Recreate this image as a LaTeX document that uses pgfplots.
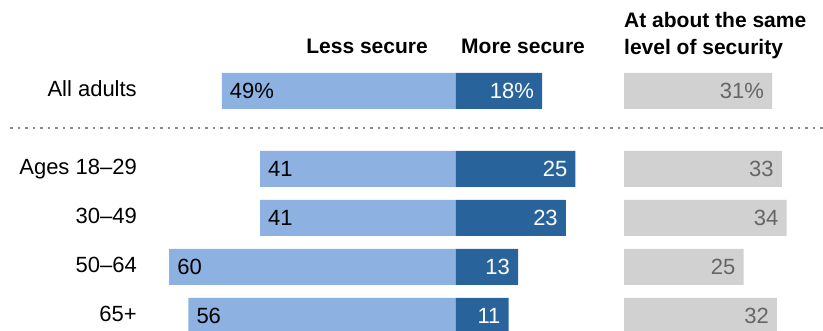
\documentclass[border=0pt]{standalone}
\usepackage{pgfplots}
\pgfplotsset{compat=1.18}
\usepackage{fontspec}
\setmainfont{Liberation Sans}
\definecolor{lightb}{HTML}{8DB1E1}
\definecolor{darkb}{HTML}{29639B}
\definecolor{grayb}{HTML}{D1D1D1}
\definecolor{graytxt}{HTML}{666666}
\definecolor{dotc}{HTML}{8A8A8A}
\newcommand{\lab}{\fontsize{22}{26}\selectfont}
\newcommand{\hdr}{\fontsize{21}{25}\selectfont\bfseries}
\begin{document}
\begin{tikzpicture}
\useasboundingbox (0,0) rectangle (823pt,331pt);
\pgfplotsset{base/.style={
  at={(0,0)}, anchor=south west,
  width=823pt, height=331pt, scale only axis, hide axis,
  y dir=reverse, ymin=0, ymax=331,
  xbar, bar width=36pt, clip=false,
  point meta=explicit symbolic}}
% diverging axis: pixel p -> x = (p-456)/4.78
\begin{axis}[base, xmin=-95.397, xmax=76.778]
\addplot[draw=none, fill=lightb, bar shift=0pt, nodes near coords,
  every node near coord/.append style={anchor=base west, inner sep=0pt, xshift=8pt, yshift=-8pt, font=\lab, text=black}]
  coordinates {(-49,91) [49\%] (-41,169) [41] (-41,218) [41] (-60,267) [60] (-56,316) [56]};
\addplot[draw=none, fill=darkb, bar shift=0pt, nodes near coords,
  every node near coord/.append style={anchor=base east, inner sep=0pt, xshift=-8pt, yshift=-8pt, font=\lab, text=white}]
  coordinates {(18,91) [18\%] (25,169) [25] (23,218) [23] (13,267) [13] (11,316) [11]};
% row labels
\node[anchor=base east, inner sep=0pt, font=\lab] at (axis cs:-66.74,97) {All adults};
\node[anchor=base east, inner sep=0pt, font=\lab] at (axis cs:-66.74,175) {Ages 18–29};
\node[anchor=base east, inner sep=0pt, font=\lab] at (axis cs:-66.74,224) {30–49};
\node[anchor=base east, inner sep=0pt, font=\lab] at (axis cs:-66.74,273) {50–64};
\node[anchor=base east, inner sep=0pt, font=\lab] at (axis cs:-66.74,322) {65+};
% headers
\node[anchor=base east, inner sep=0pt, font=\hdr] at (axis cs:-5.86,54) {Less secure};
\node[anchor=base west, inner sep=0pt, font=\hdr] at (axis cs:1.05,54) {More secure};
\node[anchor=base west, inner sep=0pt, font=\hdr] at (axis cs:35.15,28) {At about the same};
\node[anchor=base west, inner sep=0pt, font=\hdr] at (axis cs:35.15,55) {level of security};
% dotted separator
\draw[dotc, line width=1.5pt, dash pattern=on 2.5pt off 5pt] (axis cs:-93.3,128) -- (axis cs:76.778,128);
\end{axis}
% same-level axis: pixel p -> x = (p-624)/4.78
\begin{axis}[base, xmin=-130.544, xmax=41.632]
\addplot[draw=none, fill=grayb, bar shift=0pt, nodes near coords,
  every node near coord/.append style={anchor=base east, inner sep=0pt, xshift=-8pt, yshift=-8pt, font=\lab, text=graytxt}]
  coordinates {(31,91) [31\%] (33,169) [33] (34,218) [34] (25,267) [25] (32,316) [32]};
\end{axis}
\end{tikzpicture}
\end{document}
